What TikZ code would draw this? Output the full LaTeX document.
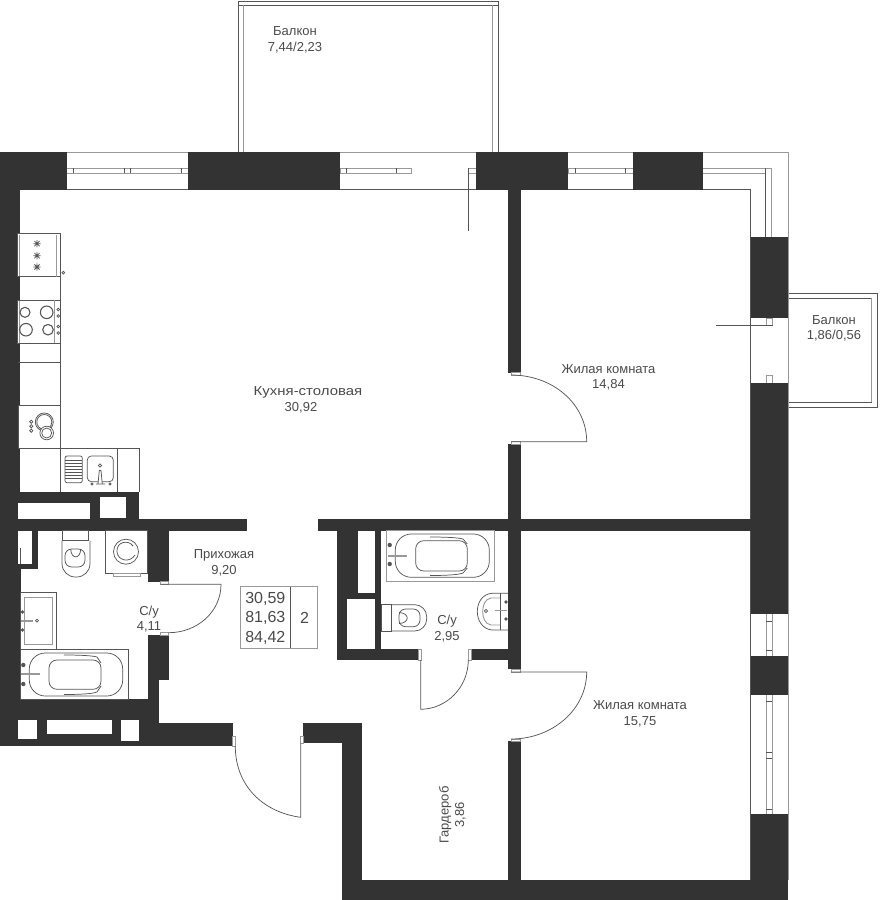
\documentclass[tikz,border=0pt]{standalone}
\usepackage{fontspec}
\setmainfont{Liberation Sans}
\definecolor{wallc}{HTML}{333333}
\definecolor{linec}{HTML}{555555}
\definecolor{paleline}{HTML}{999999}
\definecolor{textc}{HTML}{4A4A4A}
\begin{document}
\begin{tikzpicture}[x=0.75pt, y=-0.75pt, line cap=butt]
    \tikzstyle{wall} = [fill=wallc, draw=none]
    \tikzstyle{hole} = [fill=white, draw=none]
    \tikzstyle{thin} = [draw=linec, line width=0.55pt]
    \tikzstyle{pale} = [draw=paleline, line width=0.7pt]
    \tikzstyle{unit} = [draw=linec, fill=white, line width=0.55pt]
    \tikzstyle{room} = [text=textc, font=\fontsize{9.75pt}{11.6pt}\selectfont, align=center, inner sep=0pt]
    \tikzstyle{figure} = [text=textc, font=\fontsize{12pt}{14.8pt}\selectfont, align=center, inner sep=0pt]

    \useasboundingbox (0,0) rectangle (885,900);

    % balconies
    \begin{scope}
        \draw[thin] (238.3,1) -- (498.3,1) (238.3,5) -- (498.3,5);
        \draw[thin] (238.3,1) -- (238.3,152) (498.3,1) -- (498.3,152);
        \draw[pale] (243.3,5) -- (243.3,152) (492.3,5) -- (492.3,152);
        \draw[thin] (788,293.3) -- (877.3,293.3) -- (877.3,407.3) -- (788,407.3);
        \draw[thin] (788,298.3) -- (871.7,298.3) (788,402.3) -- (871.7,402.3);
        \draw[pale] (871.7,298.3) -- (871.7,402.3);
    \end{scope}

    % envelope lines and windows
    \begin{scope}
        \draw[pale] (0,152) -- (788,152) -- (788,880);
        \draw[thin] (20,189.3) -- (750.5,189.3) -- (750.5,880);

        \draw[pale] (66,168) rectangle (188,173.3);
        \draw[thin] (73,168) -- (73,173.3) (124.5,168) -- (124.5,173.3) (130,168) -- (130,173.3) (181,168) -- (181,173.3);
        \draw[pale] (340,168) rectangle (411.7,173.3);
        \draw[thin] (346.7,168) -- (346.7,173.3) (396.7,168) -- (396.7,173.3);
        \draw[pale] (468,168) rectangle (476,173.3);
        \draw[thin] (468,168) -- (468,230.7);
        \draw[pale] (568,168) rectangle (633,173.3);
        \draw[thin] (575,168) -- (575,173.3) (625,168) -- (625,173.3);
        \draw[pale] (703,168.3) -- (771.7,168.3) -- (771.7,237);
        \draw[pale] (703,173.3) -- (765.7,173.3);
        \draw[thin] (765.7,168.3) -- (765.7,237);

        \draw[pale] (766,318) rectangle (772.7,325);
        \draw[pale] (766,375) rectangle (772.7,383);
        \draw[thin] (715.7,325) -- (772.7,325);

        \draw[pale] (766.3,614) -- (766.3,815) (772.3,614) -- (772.3,815);
        \draw[thin] (766.3,621.3) -- (772.3,621.3) (766.3,650) -- (772.3,650);
        \draw[thin] (766.3,701.3) -- (772.3,701.3) (766.3,752.3) -- (772.3,752.3)
            (766.3,758.3) -- (772.3,758.3) (766.3,809.3) -- (772.3,809.3);
    \end{scope}

    % walls, then the niches cut out of them
    \begin{scope}
        \fill[wall] (0,152) rectangle (66.5,189.5);
        \fill[wall] (187.7,152) rectangle (340,189.5);
        \fill[wall] (475.7,152) rectangle (568,189.5);
        \fill[wall] (632.7,152) rectangle (703,189.5);
        \fill[wall] (0,152) rectangle (20,519.5);
        \fill[wall] (750.5,236.7) rectangle (788,318.3);
        \fill[wall] (750.5,382.7) rectangle (788,614.3);
        \fill[wall] (750.5,656.3) rectangle (788,695.3);
        \fill[wall] (750.5,814.3) rectangle (788,900);
        \fill[wall] (508,189) rectangle (520.5,372.7);
        \fill[wall] (508,444.3) rectangle (520.5,669.3);
        \fill[wall] (508,741) rectangle (520.5,885);
        \fill[wall] (0,491.7) rectangle (139.3,531);
        \fill[wall] (0,519.3) rectangle (246.7,530.7);
        \fill[wall] (318,519) rectangle (788,530.7);
        \fill[wall] (0,530) rectangle (37.7,569.3);
        \fill[wall] (0,569) rectangle (20.7,700);
        \fill[wall] (147.7,530) rectangle (168.7,581.7);
        \fill[wall] (147.7,635) rectangle (168.7,680);
        \fill[wall] (147.7,680) rectangle (159.3,724);
        \fill[wall] (0,699.3) rectangle (159.3,746);
        \fill[wall] (139,723.3) rectangle (232.7,746);
        \fill[wall] (303.3,723.3) rectangle (361.7,743.3);
        \fill[wall] (341.7,723.3) rectangle (361.7,900);
        \fill[wall] (341.7,880) rectangle (788,900);
        \fill[wall] (336.7,530) rectangle (381,660);
        \fill[wall] (336.7,649.3) rectangle (418,660);
        \fill[wall] (471.3,648.7) rectangle (508.5,660);

        \fill[hole] (18,502.7) rectangle (90,519.3);
        \fill[hole] (100,496.7) rectangle (126,518.3);
        \fill[hole] (18,530.7) rectangle (32,564.3);
        \fill[hole] (358,530.7) rectangle (375,593.3);
        \fill[hole] (347.3,599) rectangle (375,649.3);
        \fill[hole] (18,720) rectangle (37,739.3);
        \fill[hole] (46.7,720) rectangle (111.7,734);
        \fill[hole] (121,720) rectangle (139.3,740.7);
        \draw[thin] (20.5,548) -- (20.5,564.3);
    \end{scope}

    % doors
    \begin{scope}
        \draw[pale] (511,372.7) rectangle (520.5,375.3);
        \draw[pale] (511,441.7) rectangle (520.5,444.3);
        \draw[thin] (511,375) .. controls (553,375) and (586.7,404) .. (586.7,441.7) -- (511,441.7);
        \draw[pale] (511,669.3) rectangle (520.5,672);
        \draw[pale] (511,739) rectangle (520.5,741);
        \draw[thin] (511,672) -- (586.7,672) .. controls (586.7,709) and (553,739) .. (511,739);
        \draw[pale] (418,649.3) rectangle (421,660);
        \draw[pale] (468.3,649.3) rectangle (471.3,660);
        \draw[thin] (420.7,660) -- (420.7,709.3) .. controls (447,709) and (468.3,687) .. (468.3,660);
        \draw[pale] (160.7,581.7) rectangle (168.7,584.3);
        \draw[pale] (160.7,632.7) rectangle (168.7,635);
        \draw[thin] (160.7,584.3) -- (221,584.3) .. controls (221,612) and (197,632.7) .. (168.7,632.7);
        \draw[pale] (232.7,736) rectangle (235.3,746);
        \draw[pale] (300.7,736) rectangle (303.3,743.3);
        \draw[thin] (235.3,746) .. controls (235.3,785) and (262,812) .. (300.7,817.3) -- (300.7,743.3);
    \end{scope}

    % kitchen
    \begin{scope}
        \draw[thin] (60.7,233.7) -- (60.7,491.7);
        \draw[unit] (17.3,233.7) rectangle (60.7,276.7);
        \draw[pale] (19,234.5) -- (19,276) (56.7,234.5) -- (56.7,276.7);
        \foreach \y in {243.7, 255.7, 267} {
            \draw[thin] (33.3,\y) -- (40.7,\y) (37,\y-3.7) -- (37,\y+3.7)
                (34.4,\y-2.6) -- (39.6,\y+2.6) (34.4,\y+2.6) -- (39.6,\y-2.6);
        }
        \draw[thin] (63.3,272.7) circle (1.4);
        \draw[unit] (17.3,300) rectangle (60.7,343.3);
        \draw[pale] (19,300.5) -- (19,343) (54.3,300) -- (54.3,343.3);
        \draw[thin, line width=0.8pt] (25,312.3) circle (5) (46.7,312.3) circle (6.3) (26,329.7) circle (6.3) (48,329.7) circle (5.3);
        \draw[thin] (58.3,309.5) circle (1.4) (58.3,316) circle (1.4) (58.3,326.5) circle (1.4) (58.3,333) circle (1.4);
        \draw[thin] (18,362) -- (60.7,362);
        \draw[unit] (18,405.3) rectangle (60.7,448.3);
        \draw[thin] (44.3,422) circle (9) (44.3,422) circle (7.5);
        \draw[unit] (46.7,433) circle (6.8);
        \draw[thin] (46.7,433) circle (5);
        \draw[thin] (31.3,421.7) circle (1.6) (31.3,426.2) circle (1.6) (31.3,430.7) circle (1.6);
        \draw[thin] (18,448.3) -- (139.3,448.3) -- (139.3,491.7);
        \draw[thin] (117.7,448.3) -- (117.7,491.7);
        \draw[thin, rounded corners=1.5pt] (65,456) rectangle (82.3,482.7);
        \draw[thin] (65,460) -- (82.3,460) (65,463) -- (82.3,463) (65,466) -- (82.3,466) (65,469) -- (82.3,469)
            (65,472) -- (82.3,472) (65,475) -- (82.3,475) (65,478) -- (82.3,478);
        \draw[thin, rounded corners=3pt] (87.3,456) rectangle (113.3,481.7);
        \draw[thin] (100,465.5) circle (1.6);
        \draw[unit] (98,484) -- (99.3,470.5) -- (101,470.5) -- (102.3,484);
        \draw[thin] (92,484) circle (1.2) (110,484) circle (1.2) (96,484) -- (105,484);
    \end{scope}

    % left bathroom
    \begin{scope}
        \draw[unit] (62.3,530.7) rectangle (88.7,540.7);
        \draw[thin, rounded corners=10pt] (62,540.7) -- (62,577) -- (90,577) -- (90,540.7);
        \draw[thin, rounded corners=5pt] (65,549) -- (65,567) -- (85,567) -- (85,549) -- cycle;
        \draw[thin] (70.7,549) .. controls (71,559.5) and (80.5,559.5) .. (80.7,549);
        \draw[thin] (105,530.7) rectangle (147.7,573.3);
        \draw[pale] (113.3,573.3) rectangle (140,576);
        \draw[thin] (126,551.7) circle (12.5);
        \draw[thin] (133,546) .. controls (128,539) and (116,542) .. (117,552) .. controls (118,561) and (130,563) .. (135,555);
        \draw[thin] (20.7,592.3) rectangle (56.7,649.3);
        \draw[pale] (24,597.7) rectangle (52.7,644);
        \draw[pale, line width=1.2pt] (21,620.7) -- (33,620.7);
        \draw[thin] (37,620.7) circle (1.5);
        \fill[linec] (22.5,612) circle (1.8) (22.5,630) circle (1.8);
        \draw[thin] (20.7,649.3) rectangle (128.3,699.3);
        \draw[thin, rounded corners=12pt] (29.3,653) rectangle (122.7,696);
        \draw[thin, rounded corners=6pt] (49,660) rectangle (101,689.3);
        \draw[thin] (64,655) .. controls (78,655) and (92,655.5) .. (97,657) -- (101,663);
        \draw[thin] (64,694.5) .. controls (78,694.5) and (92,694) .. (97,692) -- (101,686);
        \draw[pale, line width=1.4pt] (21,674.3) -- (40,674.3);
        \fill[linec] (23.3,665) circle (2.2) (23.3,684) circle (2.2);
    \end{scope}

    % right bathroom
    \begin{scope}
        \draw[pale] (386.7,530.7) rectangle (494.7,581);
        \draw[thin, rounded corners=12pt] (395.3,534) rectangle (489.3,577.3);
        \draw[thin, rounded corners=6pt] (415.7,540.7) rectangle (467.3,571);
        \draw[thin] (430,537) .. controls (444,537) and (458,537.5) .. (463,539) -- (467.3,544);
        \draw[thin] (430,575.5) .. controls (444,575.5) and (458,575) .. (463,573) -- (467.3,568);
        \draw[pale, line width=1.4pt] (388,555.7) -- (406.7,555.7);
        \fill[linec] (389.7,545) circle (2.2) (389.7,564) circle (2.2);
        \draw[unit] (381,604.7) rectangle (391.7,631);
        \draw[thin, rounded corners=9pt] (391.7,604.7) -- (426.7,604.7) -- (426.7,631) -- (391.7,631);
        \draw[thin, rounded corners=5pt] (420,609) -- (399,609) -- (399,626.7) -- (420,626.7) -- cycle;
        \draw[thin] (399,612.5) .. controls (410,613) and (410,623) .. (399,623.5);
        \draw[thin] (508,593.3) -- (492,593.3) .. controls (482,594) and (477.3,603) .. (477.3,611.5) .. controls (477.3,620) and (482,629) .. (492,630) -- (508,630);
        \draw[thin] (500,593.3) -- (500,630);
        \draw[pale] (500,598) -- (491,598) .. controls (485,599) and (482.7,605) .. (482.7,611.5) .. controls (482.7,618) and (485,624) .. (491,625) -- (500,625);
        \draw[thin] (486,611) circle (1.6);
        \draw[pale, line width=1.2pt] (494.7,610.3) -- (507,610.3);
        \fill[linec] (506,602) circle (1.8) (506,619) circle (1.8);
    \end{scope}

    % summary box
    \draw[pale] (240.7,586.7) rectangle (317.3,648.3);
    \draw[thin] (290.7,586.7) -- (290.7,648.3);
    \node[figure] (areas) at (265.3,618.3) {30,59\\81,63\\84,42};
    \node[figure] (rooms) at (304.5,618.3) {2};

    \node[room] (balcony1) at (295,40) {Балкон\\7,44/2,23};
    \node[room] (balcony2) at (834,328.5) {Балкон\\1,86/0,56};
    \node[room, xscale=1.15] (kitchen) at (308,392) {Кухня-столовая};
    \node[room] (kitchenarea) at (301,407.5) {30,92};
    \node[room] (bedroom1) at (608.5,377.5) {Жилая комната\\14,84};
    \node[room] (hall) at (224,563) {Прихожая\\9,20};
    \node[room] (bath1) at (149,619) {С/у\\4,11};
    \node[room] (bath2) at (447,628.5) {С/у\\2,95};
    \node[room] (bedroom2) at (640,714) {Жилая комната\\15,75};
    \node[room, rotate=90] (closet) at (452.5,815) {Гардероб\\3,86};
\end{tikzpicture}
\end{document}
